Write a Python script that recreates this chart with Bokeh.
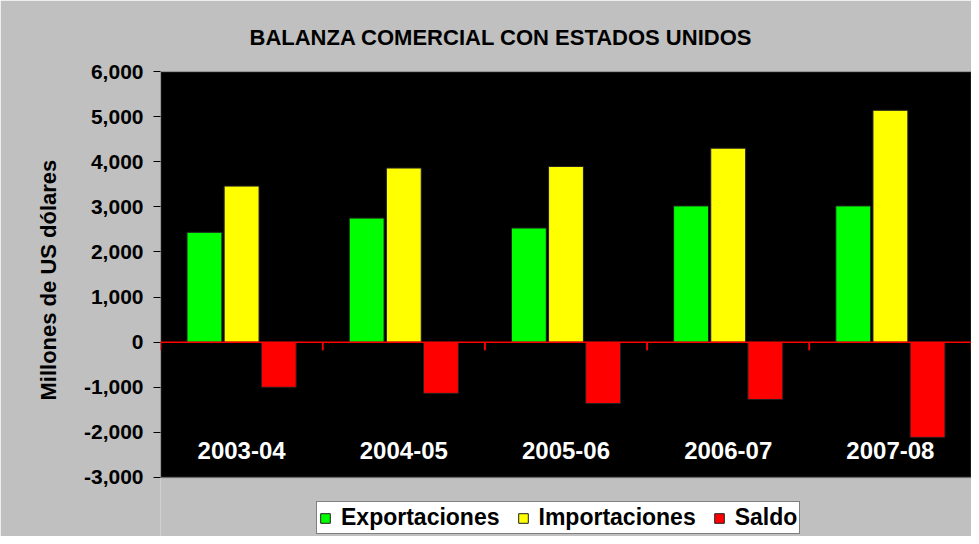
from bokeh.plotting import figure
from bokeh.models import (FactorRange, Range1d, Span, NumeralTickFormatter, FixedTicker,
                          ColumnDataSource, BoxAnnotation, Title)
from bokeh.transform import dodge
from bokeh.core.properties import value
from bokeh.embed import file_html
from bokeh.resources import INLINE

categories = ["2003-04", "2004-05", "2005-06", "2006-07", "2007-08"]
exportaciones = [2435, 2750, 2530, 3020, 3020]
importaciones = [3460, 3860, 3895, 4300, 5140]
saldo = [-1000, -1135, -1360, -1270, -2110]
y_ticks = [-3000, -2000, -1000, 0, 1000, 2000, 3000, 4000, 5000, 6000]
series_names = ["Exportaciones", "Importaciones", "Saldo"]
series_colors = ["#00FF00", "#FFFF00", "#FF0000"]

FONT = "Liberation Sans"
BAR_W = 0.215
STEP = 0.229
LABEL_Y = -2410
TICK_LEN = 180
Y_BOTTOM_EXT = -4308   # frame extends below the plot area to hold the legend

source = ColumnDataSource(dict(cat=categories, exp=exportaciones, imp=importaciones, sal=saldo,
                               zero=[0] * len(categories), tick=[-TICK_LEN] * len(categories)))

p = figure(width=971, height=536,
           x_range=FactorRange(*categories, range_padding=0),
           y_range=Range1d(Y_BOTTOM_EXT, y_ticks[-1]),
           output_backend="svg", toolbar_location=None,
           min_border_left=160, min_border_right=0, min_border_top=71, min_border_bottom=0)

p.background_fill_color = "#C0C0C0"
p.border_fill_color = "#C0C0C0"
p.outline_line_color = None
p.xgrid.visible = False
p.ygrid.visible = False
p.xaxis.visible = False

# black plot area with grey border
p.add_layout(BoxAnnotation(bottom=y_ticks[0], top=y_ticks[-1], fill_color="black", fill_alpha=1,
                           line_color="#808080", line_width=2, level="underlay"))

p.title.text = "BALANZA COMERCIAL CON ESTADOS UNIDOS"
p.title.align = "left"
p.title.offset = 89
p.title.standoff = 44
p.title.text_font = FONT
p.title.text_font_size = "22px"
p.title.text_font_style = "bold"
p.title.text_color = "black"

cols = ["exp", "imp", "sal"]
offsets = [-STEP, 0, STEP]
for col, off, name, color in zip(cols, offsets, series_names, series_colors):
    p.vbar(x=dodge("cat", off, range=p.x_range), top=col, bottom="zero", width=BAR_W,
           source=source, fill_color=color, line_color="#202020", line_width=1,
           legend_label=name)

p.add_layout(Span(location=0, dimension="width", line_color="#FF0000", line_width=1.5))
for side in (-0.5, 0.5):
    p.segment(x0=dodge("cat", side, range=p.x_range), y0="zero",
              x1=dodge("cat", side, range=p.x_range), y1="tick",
              source=source, line_color="#FF0000", line_width=1.5)

p.text(x="cat", y=LABEL_Y, text="cat", source=source, text_color="white",
       text_font=value(FONT), text_font_style="bold", text_font_size="24px",
       text_align="center", text_baseline="middle")

ax = p.yaxis[0]
ax.ticker = FixedTicker(ticks=y_ticks)
ax.formatter = NumeralTickFormatter(format="0,0")
ax.major_label_text_font = FONT
ax.major_label_text_font_size = "21px"
ax.major_label_text_font_style = "bold"
ax.major_label_text_color = "black"
ax.major_label_standoff = 10
ax.axis_line_color = None
ax.major_tick_out = 7
ax.major_tick_in = 0
ax.major_tick_line_color = "black"
ax.minor_tick_line_color = None

ylab = Title(text="Millones de US dólares", align="left", offset=136, standoff=40,
             text_font=FONT, text_font_size="22px", text_font_style="bold", text_color="black")
p.add_layout(ylab, "left")

lg = p.legend[0]
lg.orientation = "horizontal"
lg.location = (156, 2)
lg.glyph_width = 12
lg.glyph_height = 12
lg.label_standoff = 10
lg.spacing = 17
lg.padding = 2
lg.margin = 0
lg.label_text_font = FONT
lg.label_text_font_size = "23px"
lg.label_text_font_style = "bold"
lg.label_text_color = "black"
lg.border_line_color = "black"
lg.border_line_width = 1
lg.background_fill_color = "white"
lg.background_fill_alpha = 1

open("out.html", "w").write(file_html(p, INLINE))
